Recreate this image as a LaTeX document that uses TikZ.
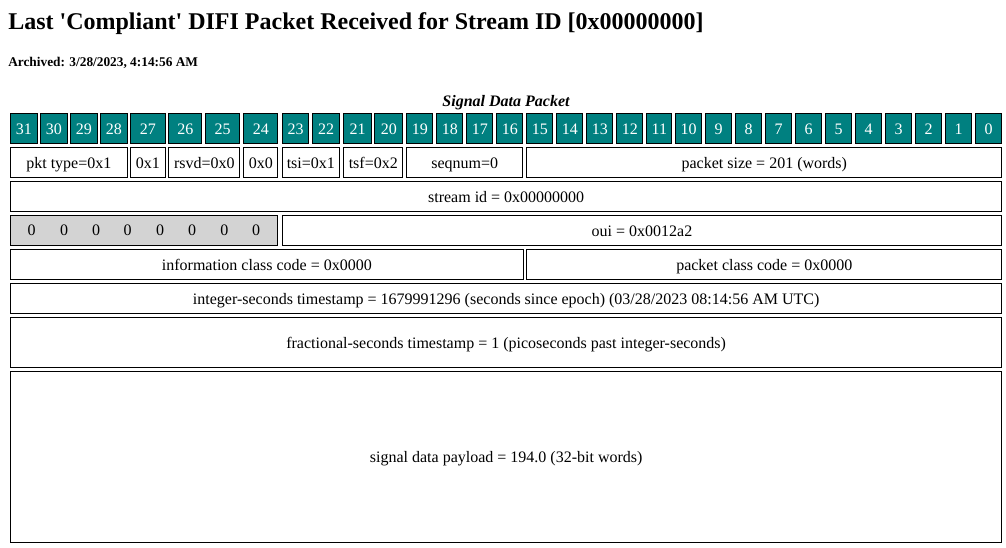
\documentclass[tikz,border=0pt]{standalone}
\usepackage{fontspec}
\setmainfont{Liberation Serif}[Ligatures=TeXOff]
\definecolor{bitteal}{HTML}{008080}
\definecolor{zerogray}{HTML}{D3D3D3}
\tikzset{
  box/.style={draw=black, line width=0.8pt, inner sep=0pt, text height=8.25pt, text depth=0pt, font=\fontsize{12}{14}\selectfont},
  bitcell/.style={box, fill=bitteal, text=white},
  fieldcell/.style={box, fill=white},
  graycell/.style={box, fill=zerogray},
  zerotxt/.style={inner sep=0pt, anchor=base, font=\fontsize{12}{14}\selectfont},
}
\newcommand\cell[7]{\node[#6, minimum width={((#4)-(#2)-1)*0.75pt}, minimum height={((#5)-(#3)-1)*0.75pt}] (#1) at ({((#2)+(#4))/2},{((#3)+(#5))/2}) {#7};}
\begin{document}
\begin{tikzpicture}[x=0.75pt,y=-0.75pt]
\useasboundingbox (0,0) rectangle (1006,548);
\node[anchor=base west, inner sep=0pt, font=\fontsize{18}{22}\selectfont\bfseries] (title) at (8,30) {Last 'Compliant' DIFI Packet Received for Stream ID [0x00000000]};
\node[anchor=base west, inner sep=0pt, font=\fontsize{10}{12}\selectfont\bfseries] (archived) at (8,67) {Archived: 3/28/2023, 4:14:56 AM};
\node[anchor=base, inner sep=0pt, font=\fontsize{12}{14}\selectfont\bfseries\itshape] (caption) at (506,106.5) {Signal Data Packet};
% header bits
\def\ya{113.3}\def\yb{144.3}
\cell{b31}{10}{\ya}{37.7}{\yb}{bitcell}{31}
\cell{b30}{40}{\ya}{67.7}{\yb}{bitcell}{30}
\cell{b29}{70}{\ya}{97.7}{\yb}{bitcell}{29}
\cell{b28}{100}{\ya}{127.7}{\yb}{bitcell}{28}
\cell{b27}{130}{\ya}{165.7}{\yb}{bitcell}{27}
\cell{b26}{168.3}{\ya}{202.3}{\yb}{bitcell}{26}
\cell{b25}{205}{\ya}{240.3}{\yb}{bitcell}{25}
\cell{b24}{243.3}{\ya}{278.3}{\yb}{bitcell}{24}
\cell{b23}{281.7}{\ya}{309.3}{\yb}{bitcell}{23}
\cell{b22}{312.3}{\ya}{340}{\yb}{bitcell}{22}
\cell{b21}{343.3}{\ya}{371.7}{\yb}{bitcell}{21}
\cell{b20}{374.3}{\ya}{403.3}{\yb}{bitcell}{20}
\cell{b19}{406.3}{\ya}{433.3}{\yb}{bitcell}{19}
\cell{b18}{436.3}{\ya}{463.3}{\yb}{bitcell}{18}
\cell{b17}{466.3}{\ya}{493.3}{\yb}{bitcell}{17}
\cell{b16}{496.3}{\ya}{523.3}{\yb}{bitcell}{16}
\cell{b15}{526.3}{\ya}{553.3}{\yb}{bitcell}{15}
\cell{b14}{556.3}{\ya}{583.3}{\yb}{bitcell}{14}
\cell{b13}{586.3}{\ya}{613.3}{\yb}{bitcell}{13}
\cell{b12}{616.3}{\ya}{643.3}{\yb}{bitcell}{12}
\cell{b11}{646.3}{\ya}{672.3}{\yb}{bitcell}{11}
\cell{b10}{675}{\ya}{702.3}{\yb}{bitcell}{10}
\cell{b9}{705}{\ya}{732.3}{\yb}{bitcell}{9}
\cell{b8}{735}{\ya}{762.3}{\yb}{bitcell}{8}
\cell{b7}{765}{\ya}{792.3}{\yb}{bitcell}{7}
\cell{b6}{795}{\ya}{822.3}{\yb}{bitcell}{6}
\cell{b5}{825}{\ya}{852.3}{\yb}{bitcell}{5}
\cell{b4}{855}{\ya}{882.3}{\yb}{bitcell}{4}
\cell{b3}{885}{\ya}{912.3}{\yb}{bitcell}{3}
\cell{b2}{915}{\ya}{942.3}{\yb}{bitcell}{2}
\cell{b1}{945}{\ya}{972.3}{\yb}{bitcell}{1}
\cell{b0}{975}{\ya}{1002.3}{\yb}{bitcell}{0}
% row 1
\def\ya{147.3}\def\yb{178.3}
\cell{pkttype}{10}{\ya}{127.7}{\yb}{fieldcell}{pkt type=0x1}
\cell{cbit}{130}{\ya}{165.7}{\yb}{fieldcell}{0x1}
\cell{rsvd}{168.3}{\ya}{240.3}{\yb}{fieldcell}{rsvd=0x0}
\cell{tbit}{243.3}{\ya}{278.3}{\yb}{fieldcell}{0x0}
\cell{tsi}{281.7}{\ya}{340}{\yb}{fieldcell}{tsi=0x1}
\cell{tsf}{343.3}{\ya}{403.3}{\yb}{fieldcell}{tsf=0x2}
\cell{seqnum}{406.3}{\ya}{523.3}{\yb}{fieldcell}{seqnum=0}
\cell{pktsize}{526.3}{\ya}{1002.3}{\yb}{fieldcell}{packet size = 201 (words)}
% row 2
\cell{streamid}{10}{181}{1002.3}{212.3}{fieldcell}{stream id = 0x00000000}
% row 3
\cell{zeros}{10}{215}{278.3}{246.3}{graycell}{}
\foreach \i/\x in {1/31.7,2/64,3/96,4/127.7,5/160,6/192,7/224.3,8/256}{
  \node[zerotxt] (zero\i) at (\x,235.7) {0};
}
\cell{oui}{281.7}{215}{1002.3}{246.3}{fieldcell}{oui = 0x0012a2}
% row 4
\cell{infoclass}{10}{249.3}{523.7}{280.3}{fieldcell}{information class code = 0x0000}
\cell{pktclass}{526.3}{249.3}{1002.3}{280.3}{fieldcell}{packet class code = 0x0000}
% row 5
\cell{intsec}{10}{283.3}{1002.3}{314.3}{fieldcell}{integer-seconds timestamp = 1679991296 (seconds since epoch) (03/28/2023 08:14:56 AM UTC)}
% row 6
\cell{fracsec}{10}{317.3}{1002.3}{368.3}{fieldcell}{fractional-seconds timestamp = 1 (picoseconds past integer-seconds)}
% row 7
\cell{payload}{10}{371.3}{1002.3}{542.7}{fieldcell}{signal data payload = 194.0 (32-bit words)}
\end{tikzpicture}
\end{document}
